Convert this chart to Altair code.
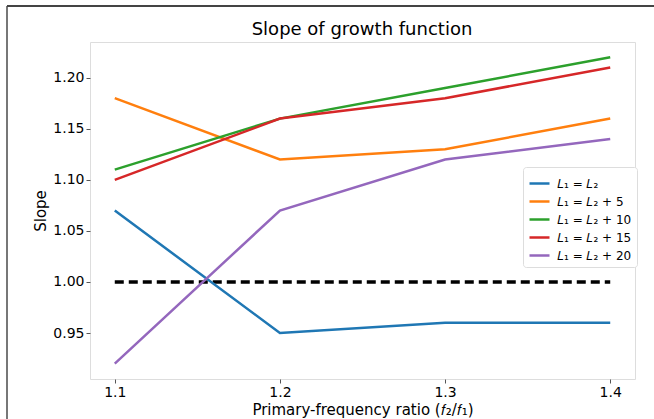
import altair as alt
import pandas as pd

ratios = [1.1, 1.2, 1.3, 1.4]
series_names = ["𝐿₁ = 𝐿₂", "𝐿₁ = 𝐿₂ + 5", "𝐿₁ = 𝐿₂ + 10", "𝐿₁ = 𝐿₂ + 15", "𝐿₁ = 𝐿₂ + 20"]
s0 = [1.07, 0.95, 0.96, 0.96]
s5 = [1.18, 1.12, 1.13, 1.16]
s10 = [1.11, 1.16, 1.19, 1.22]
s15 = [1.10, 1.16, 1.18, 1.21]
s20 = [0.92, 1.07, 1.12, 1.14]
colors = ["#1f77b4", "#ff7f0e", "#2ca02c", "#d62728", "#9467bd"]
ref_x = [1.1, 1.4]
ref_y = [1.0, 1.0]
y_ticks = [0.95, 1.00, 1.05, 1.10, 1.15, 1.20]
title_text = ["Slope of growth function"]

rows = []
for name, vals in zip(series_names, [s0, s5, s10, s15, s20]):
    for xv, yv in zip(ratios, vals):
        rows.append({"ratio": xv, "slope": yv, "series": name})
df = pd.DataFrame(rows)
ref_df = pd.DataFrame({"ratio": ref_x, "slope": ref_y})
title_df = pd.DataFrame({"t": title_text})

FONT = "DejaVu Sans"

xscale = alt.Scale(domain=[1.085, 1.415], nice=False, zero=False)
yscale = alt.Scale(domain=[0.905, 1.235], nice=False, zero=False)

xaxis = alt.Axis(values=ratios, format=".1f", title="Primary-frequency ratio (𝑓₂/𝑓₁)",
                 grid=False, labelFontSize=14, titleFontSize=15, labelColor="black",
                 titleColor="black", titleFontWeight="normal", tickColor="#555",
                 domain=False, tickSize=4, labelPadding=2, titlePadding=3,
                 labelFont=FONT, titleFont=FONT)
yaxis = alt.Axis(values=y_ticks, format=".2f", title="Slope",
                 grid=False, labelFontSize=14, titleFontSize=15, labelColor="black",
                 titleColor="black", titleFontWeight="normal", tickColor="#555",
                 domain=False, tickSize=4, labelPadding=2, titlePadding=4,
                 labelFont=FONT, titleFont=FONT)

ref = alt.Chart(ref_df).mark_line(color="black", strokeWidth=3.5, strokeDash=[9, 5]).encode(
    x=alt.X("ratio:Q", scale=xscale, axis=xaxis),
    y=alt.Y("slope:Q", scale=yscale, axis=yaxis),
)

lines = alt.Chart(df).mark_line(strokeWidth=2.5).encode(
    x=alt.X("ratio:Q", scale=xscale),
    y=alt.Y("slope:Q", scale=yscale),
    color=alt.Color("series:N", sort=series_names,
                    scale=alt.Scale(domain=series_names, range=colors),
                    legend=alt.Legend(title=None, orient="none", legendX=433, legendY=125,
                                      symbolType="stroke", symbolSize=400, symbolStrokeWidth=2.5,
                                      labelFontSize=12, labelFont=FONT, labelColor="black",
                                      rowPadding=-2, strokeColor="#ddd", cornerRadius=3,
                                      padding=5, fillColor="white", labelLimit=200,
                                      labelOffset=6)),
)

title_mark = alt.Chart(title_df).mark_text(fontSize=18, font=FONT, color="black",
                                           align="center", baseline="alphabetic").encode(
    text="t:N", x=alt.value(272), y=alt.value(-7))

frame_left = alt.Chart(ref_df).mark_rule(color="#777", strokeWidth=2).encode(
    x=alt.value(-83), y=alt.value(-36), y2=alt.value(377))
frame_top = alt.Chart(ref_df).mark_rule(color="#444", strokeWidth=2).encode(
    x=alt.value(-83), x2=alt.value(564), y=alt.value(-36))

chart = alt.layer(ref, lines, title_mark, frame_left, frame_top).properties(
    width=545, height=337,
    padding={"left": 90, "top": 42, "right": 19, "bottom": 40},
    autosize=alt.AutoSizeParams(type="none"),
).configure_view(stroke="#888", strokeWidth=1.2).configure(background="white")

chart.save("out.html", embed_options={"renderer": "svg", "actions": False})
